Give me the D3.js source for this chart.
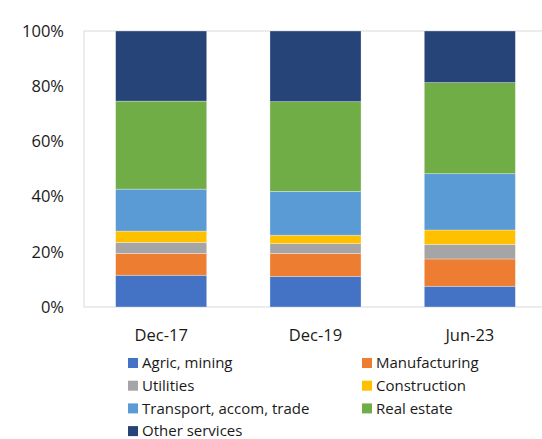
<!DOCTYPE html>
<html><head><meta charset="utf-8">
<script src="https://cdn.jsdelivr.net/npm/d3@7"></script>
<style>body{margin:0;background:#fff}svg{display:block;font-family:"Open Sans",sans-serif}</style>
</head><body><svg id="c" width="542" height="439"></svg>
<script>
const categories = ["Dec-17", "Dec-19", "Jun-23"];
const seriesNames = ["Agric, mining","Manufacturing","Utilities","Construction","Transport, accom, trade","Real estate","Other services"];
const agric = [11.5, 11.1, 7.5];
const manufacturing = [7.9, 8.3, 9.9];
const utilities = [4.0, 3.6, 5.3];
const construction = [4.1, 3.0, 5.2];
const transport = [15.2, 15.9, 20.4];
const realEstate = [31.9, 32.5, 33.0];
const otherServices = [25.4, 25.6, 18.7];
const yTicks = [0, 20, 40, 60, 80, 100];
const colors = ["#4472C4","#ED7D31","#A5A5A5","#FFC000","#5B9BD5","#70AD47","#264478"];

const seriesVals = [agric, manufacturing, utilities, construction, transport, realEstate, otherServices];
const rows = categories.map((c,i)=>{const r={cat:c}; seriesNames.forEach((s,j)=>r[s]=seriesVals[j][i]); return r;});
const stack = d3.stack().keys(seriesNames)(rows);

const svg = d3.select("#c");
const L=84, R=547, T=31, B=307;
const x = d3.scaleBand().domain(categories).range([L,R]).paddingInner(0.41).paddingOuter(0.205);
const y = d3.scaleLinear().domain([0,100]).range([B,T]);

svg.append("rect").attr("x",L).attr("y",T).attr("width",R-L).attr("height",B-T)
  .attr("fill","none").attr("stroke","#d9d9d9").attr("stroke-width",1);

stack.forEach((s,j)=>{
  svg.append("g").selectAll("rect").data(s).join("rect")
    .attr("x",d=>x(d.data.cat)).attr("width",x.bandwidth())
    .attr("y",d=>y(d[1])).attr("height",d=>y(d[0])-y(d[1]))
    .attr("fill",colors[j]).attr("stroke","#ffffff").attr("stroke-opacity",0.4).attr("stroke-width",0.75);
});

const ya = svg.append("g").attr("transform",`translate(${L-20},0)`)
  .call(d3.axisLeft(y).tickValues(yTicks).tickFormat(d=>d+"%").tickSize(0).tickPadding(0));
ya.select(".domain").remove();
ya.selectAll("text").attr("font-size",16.5).attr("fill","#1a1a1a").attr("font-family","'Open Sans',sans-serif");

const xa = svg.append("g").attr("transform",`translate(0,${B})`)
  .call(d3.axisBottom(x).tickSize(0).tickPadding(22));
xa.select(".domain").remove();
xa.selectAll("text").attr("font-size",16.5).attr("fill","#1a1a1a").attr("font-family","'Open Sans',sans-serif");

const leg = svg.append("g");
seriesNames.forEach((s,j)=>{
  const col=j%2, row=Math.floor(j/2);
  const gx = col===0?128:362, gy = 363 + row*22.7;
  leg.append("rect").attr("x",gx).attr("y",gy-5).attr("width",10).attr("height",10).attr("fill",colors[j]);
  leg.append("text").attr("x",gx+14).attr("y",gy).attr("dy","0.35em").attr("font-size",15).attr("fill","#1a1a1a").text(s);
});
</script></body></html>
